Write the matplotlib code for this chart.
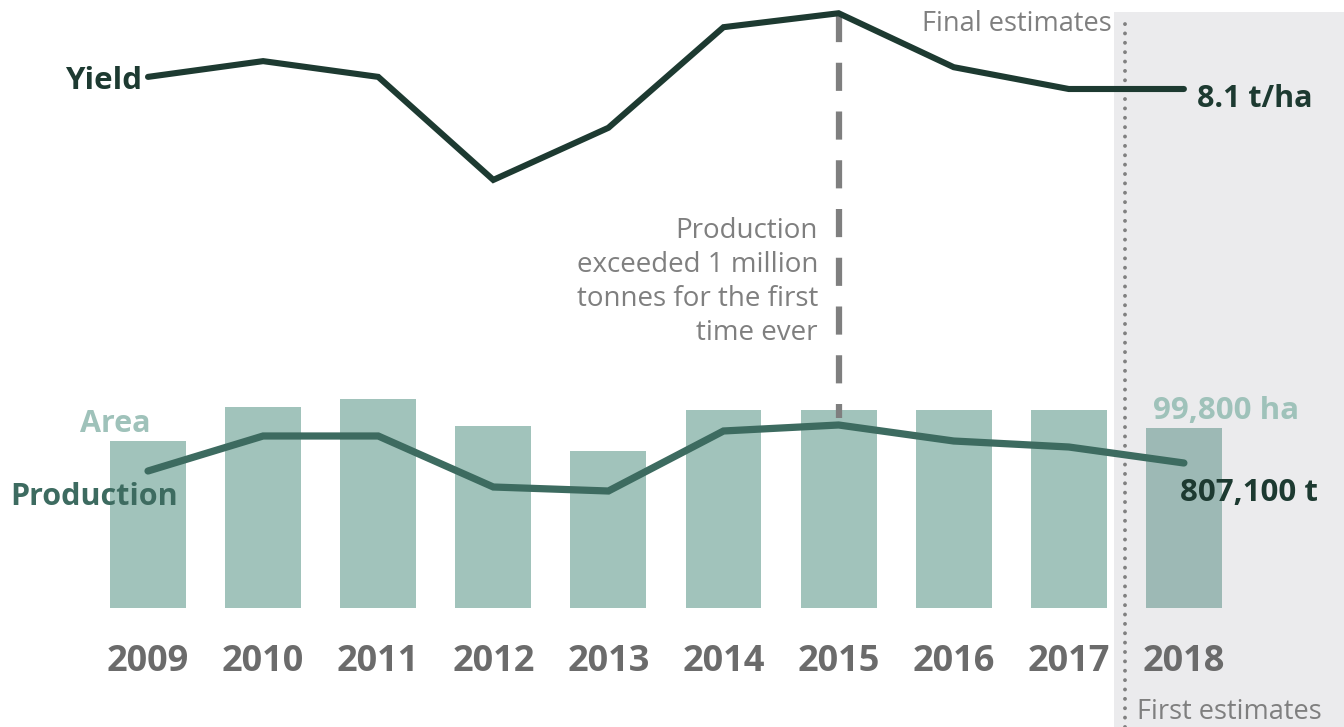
import matplotlib
matplotlib.use("Agg")
import matplotlib.pyplot as plt
import matplotlib.transforms as mtransforms

plt.rcParams['font.family'] = ['Open Sans', 'DejaVu Sans']

# dane
years = [2009, 2010, 2011, 2012, 2013, 2014, 2015, 2016, 2017, 2018]
area_ha = [92600, 111400, 115800, 100900, 87000, 109700, 109700, 109700, 109700, 99800]
production_t = [760100, 965600, 965600, 666200, 642700, 995000, 1030200, 936200, 901000, 807100]
yield_tha = [8.30, 8.56, 8.30, 6.60, 7.46, 9.12, 9.35, 8.46, 8.10, 8.10]

# kolory
c_bar = '#a1c3bb'
c_area_txt = '#9fc2ba'
c_prod = '#3d6b60'
c_yield = '#1d3a31'
c_gray = '#7f7f7f'
c_year = '#6b6b6b'

W, H = 1344, 727
fig = plt.figure(figsize=(W / 100, H / 100), dpi=100)
ax = fig.add_axes([0, 0, 1, 1])
ax.set_xlim(2007.714, 2019.391)
ax.set_ylim(-65977, 337079)
ax.axis('off')

ax_p = ax.twinx()
ax_p.set_ylim(-742600, 3524900)
ax_p.axis('off')

ax_y = ax.twinx()
ax_y.set_ylim(-2.427, 9.5685)
ax_y.axis('off')

# slupki - powierzchnia
ax.bar(years, area_ha, width=0.66, color=c_bar, zorder=1)

# linie
ax_p.plot(years, production_t, color=c_prod, lw=5.2, solid_capstyle='round',
          solid_joinstyle='miter', zorder=3)
ax_y.plot(years, yield_tha, color=c_yield, lw=4.4, solid_capstyle='round',
          solid_joinstyle='miter', zorder=3)

# szary obszar - pierwsze szacunki
ax.axvspan(2017.393, 2019.6, ymin=0, ymax=1 - 12 / H, color=(0.55, 0.55, 0.6),
           alpha=0.17, lw=0, zorder=2)

trans = mtransforms.blended_transform_factory(ax.transData, ax.transAxes)

# linia kropkowana
ax.plot([2017.488, 2017.488], [0, 1 - 15 / H], transform=trans, color='#808080',
        lw=2.8, linestyle=(0, (0.01, 2.4)), dash_capstyle='round', zorder=4)

# linia przerywana 2015
ax.plot([2015, 2015], [1 - 14 / H, 1 - 418 / H], transform=trans, color=c_gray,
        lw=4.5, linestyle=(0, (4.5, 3.3)), zorder=4)

# etykiety lat
for yr in years:
    ax.text(yr, 1 - 662 / H, str(yr), transform=trans, ha='center', va='center',
            fontsize=26, fontweight='bold', color=c_year)

ft = ax.transAxes
def px(x, y):
    return x / W, 1 - (y + 3) / H

ax.text(*px(142, 78), 'Yield', transform=ft, ha='right', va='center',
        fontsize=22.5, fontweight='bold', color=c_yield)
ax.text(*px(150, 421), 'Area', transform=ft, ha='right', va='center',
        fontsize=22, fontweight='bold', color=c_area_txt)
ax.text(*px(10, 494), 'Production', transform=ft, ha='left', va='center',
        fontsize=22, fontweight='bold', color=c_prod)
ax.text(*px(1197, 96), '8.1 t/ha', transform=ft, ha='left', va='center',
        fontsize=22, fontweight='bold', color=c_yield)
ax.text(*px(1153, 408), '99,800 ha', transform=ft, ha='left', va='center',
        fontsize=22.5, fontweight='bold', color=c_area_txt)
ax.text(*px(1180, 490), '807,100 t', transform=ft, ha='left', va='center',
        fontsize=22.5, fontweight='bold', color=c_yield)
ax.text(*px(1112, 21), 'Final estimates', transform=ft, ha='right', va='center',
        fontsize=19.5, color=c_gray)
ax.text(*px(1137, 709), 'First estimates', transform=ft, ha='left', va='center',
        fontsize=19.5, color=c_gray)
ax.text(*px(818, 279), 'Production\nexceeded 1 million\ntonnes for the first\ntime ever',
        transform=ft, ha='right', va='center', fontsize=20, color=c_gray,
        linespacing=1.29, multialignment='right')

fig.savefig('out.png', dpi=100)
